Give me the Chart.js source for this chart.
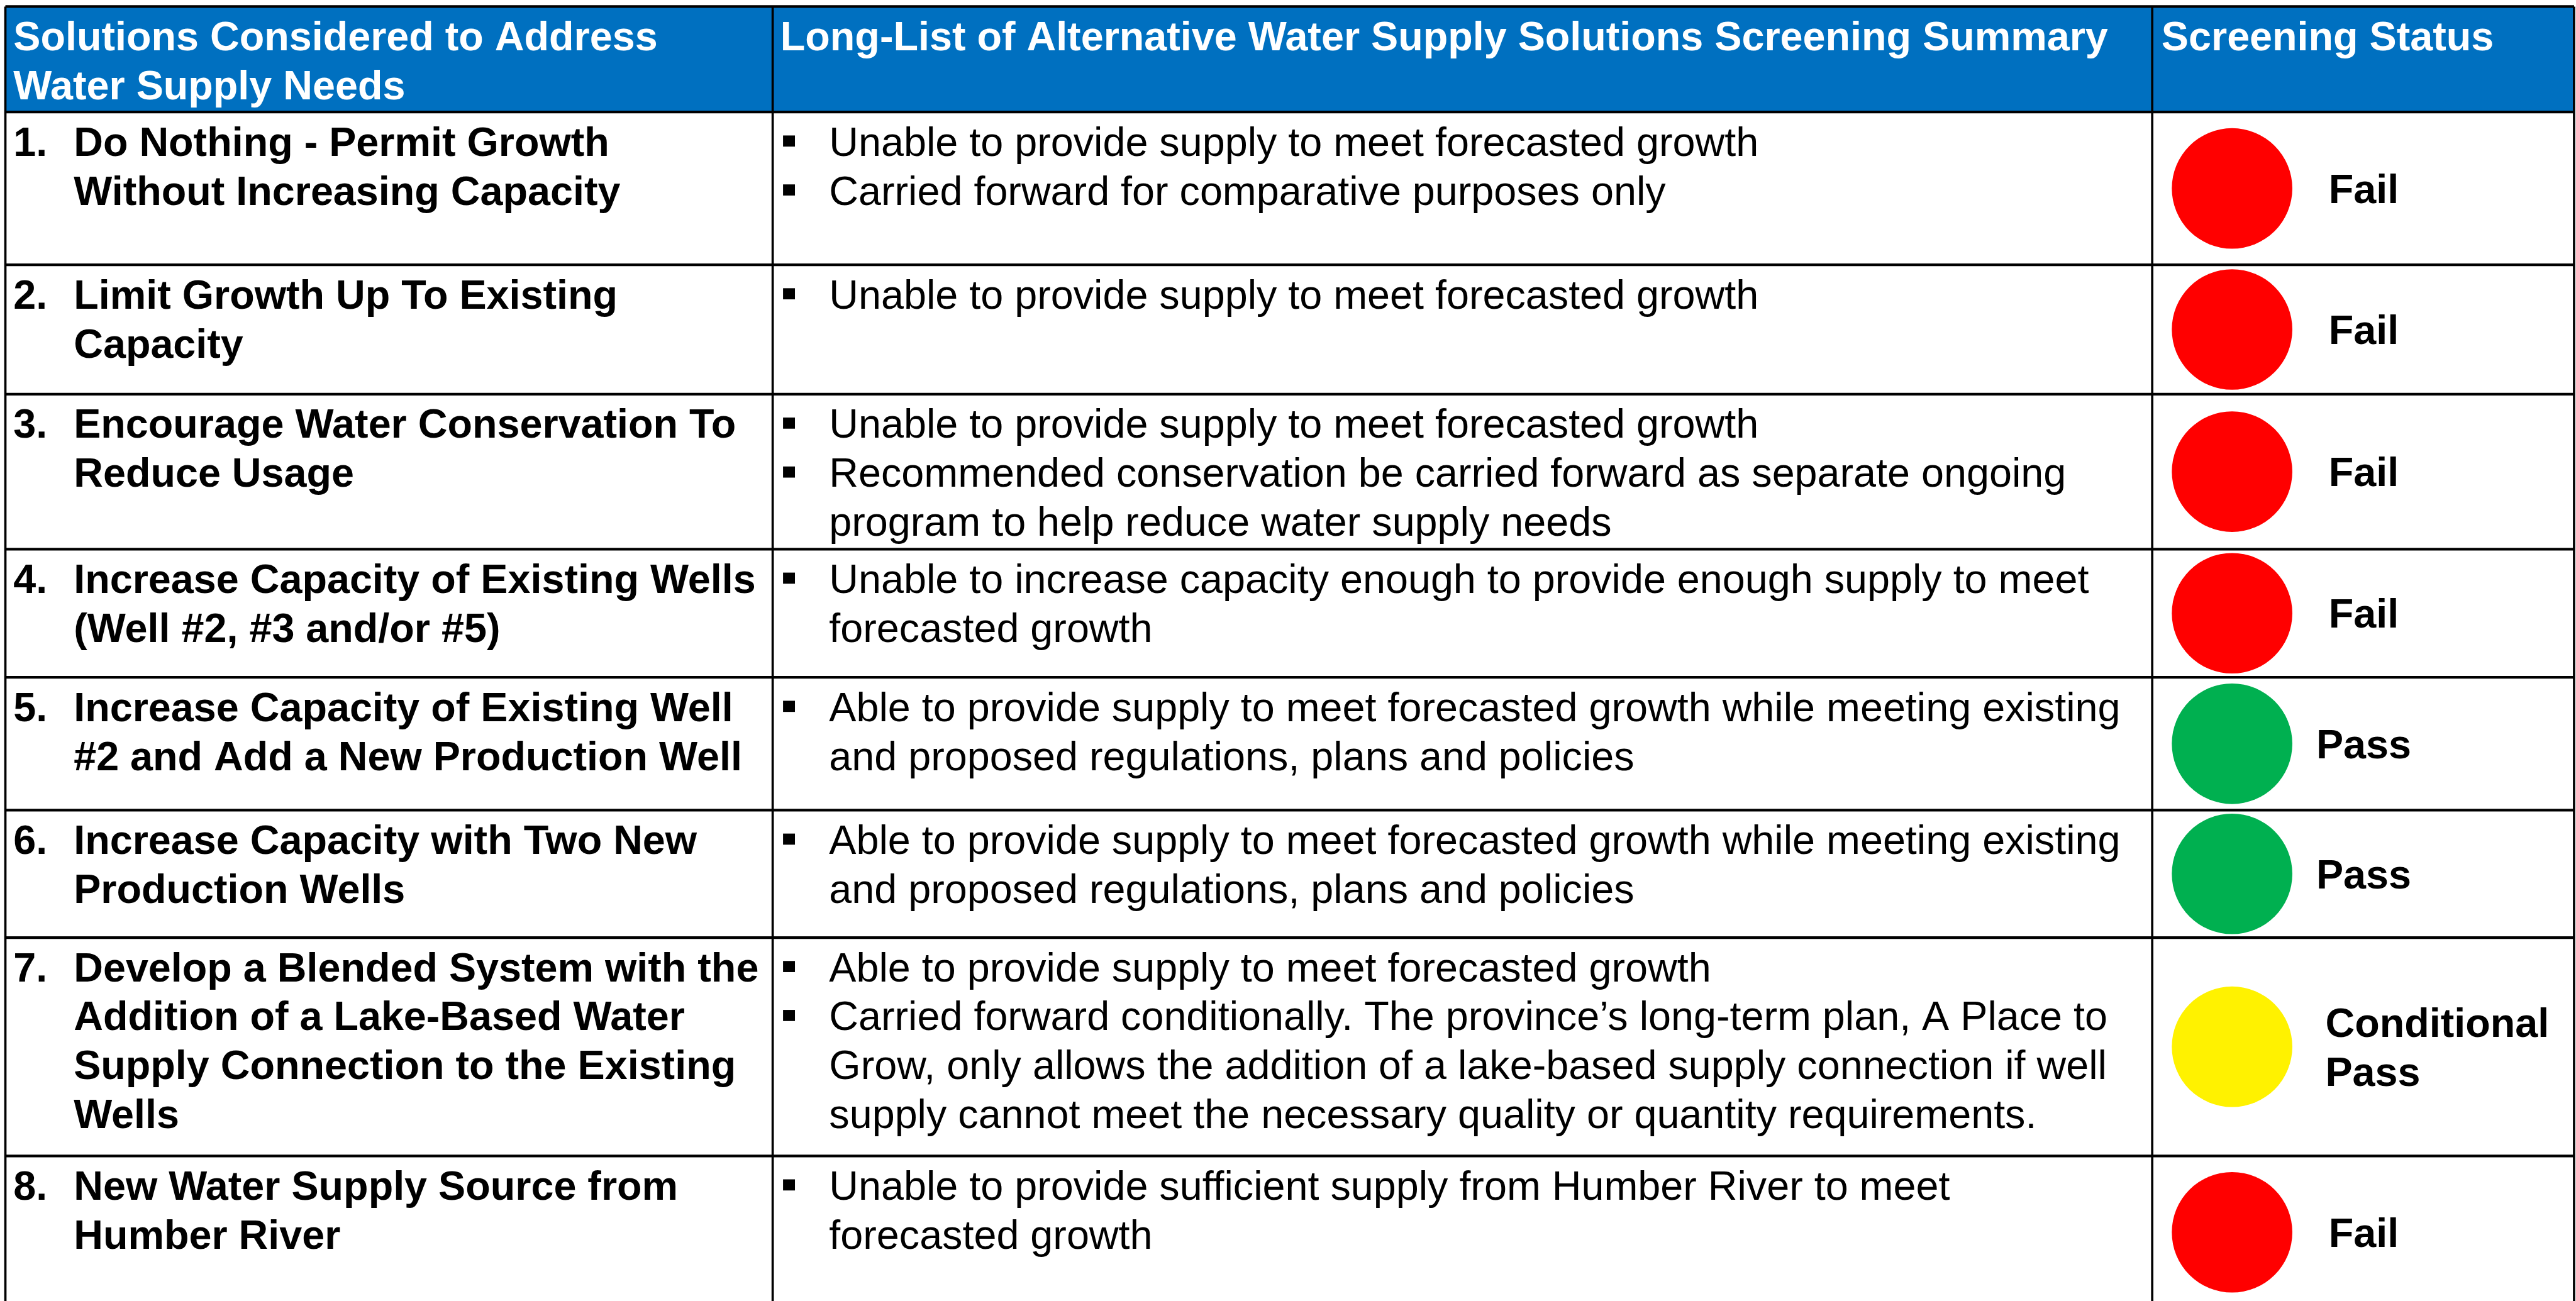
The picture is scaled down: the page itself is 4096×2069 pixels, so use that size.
<!DOCTYPE html>
<html>
<head>
<meta charset="utf-8">
<script src="https://cdn.jsdelivr.net/npm/chart.js@4.4.1/dist/chart.umd.min.js"></script>
<style>
  html, body { margin: 0; padding: 0; background: #ffffff; overflow: hidden; }
  #wrap { width: 4096px; height: 2069px; position: relative; }
</style>
</head>
<body>
<div id="wrap"><canvas id="c"></canvas></div>
<script>
// ---------- DATA ----------
const headerTitles = [
  ["Solutions Considered to Address", "Water Supply Needs"],
  ["Long-List of Alternative Water Supply Solutions Screening Summary"],
  ["Screening Status"]
];
const optionNumbers = ["1.", "2.", "3.", "4.", "5.", "6.", "7.", "8."];
const optionNames = [
  ["Do Nothing - Permit Growth", "Without Increasing Capacity"],
  ["Limit Growth Up To Existing", "Capacity"],
  ["Encourage Water Conservation To", "Reduce Usage"],
  ["Increase Capacity of Existing Wells", "(Well #2, #3 and/or #5)"],
  ["Increase Capacity of Existing Well", "#2 and Add a New Production Well"],
  ["Increase Capacity with Two New", "Production Wells"],
  ["Develop a Blended System with the", "Addition of a Lake-Based Water", "Supply Connection to the Existing", "Wells"],
  ["New Water Supply Source from", "Humber River"]
];
const screeningSummary = [
  [["Unable to provide supply to meet forecasted growth"], ["Carried forward for comparative purposes only"]],
  [["Unable to provide supply to meet forecasted growth"]],
  [["Unable to provide supply to meet forecasted growth"], ["Recommended conservation be carried forward as separate ongoing", "program to help reduce water supply needs"]],
  [["Unable to increase capacity enough to provide enough supply to meet", "forecasted growth"]],
  [["Able to provide supply to meet forecasted growth while meeting existing", "and proposed regulations, plans and policies"]],
  [["Able to provide supply to meet forecasted growth while meeting existing", "and proposed regulations, plans and policies"]],
  [["Able to provide supply to meet forecasted growth"], ["Carried forward conditionally. The province\u2019s long-term plan, A Place to", "Grow, only allows the addition of a lake-based supply connection if well", "supply cannot meet the necessary quality or quantity requirements."]],
  [["Unable to provide sufficient supply from Humber River to meet", "forecasted growth"]]
];
const screeningStatus = ["Fail", "Fail", "Fail", "Fail", "Pass", "Pass", "Conditional Pass", "Fail"];
const statusColors = { "Fail": "#FF0000", "Pass": "#00B050", "Conditional Pass": "#FFF200" };

// ---------- LAYOUT (reference units) ----------
const REF_W = 6711, REF_H = 3390;
const colEdges = [14, 2013, 5607, 6706];
const rowEdges = [17, 292, 690, 1027, 1431, 1765, 2111, 2443, 3012, 3410];
const FONT_REF = 106, LINE_REF = 127.5, BASE_OFF = 114;
const FONT = '"Liberation Sans", Arial, Helvetica, sans-serif';

const statusPoints = screeningStatus.map((s, i) => ({
  x: 5815,
  y: (rowEdges[i + 1] + rowEdges[i + 2]) / 2,
  status: s
}));

const tablePlugin = {
  id: 'tablePlugin',
  beforeDatasetsDraw(chart) {
    const ctx = chart.ctx, sx = chart.scales.x, sy = chart.scales.y;
    const X = v => sx.getPixelForValue(v), Y = v => sy.getPixelForValue(v);
    const k = (X(REF_W) - X(0)) / REF_W;
    ctx.save();
    // header background
    ctx.fillStyle = '#0070C0';
    ctx.fillRect(X(colEdges[0]), Y(rowEdges[0]), X(colEdges[3]) - X(colEdges[0]), Y(rowEdges[1]) - Y(rowEdges[0]));
    // horizontal lines
    ctx.strokeStyle = '#000000';
    ctx.lineWidth = 7 * k;
    for (let i = 0; i < rowEdges.length - 1; i++) {
      ctx.beginPath();
      ctx.moveTo(X(colEdges[0]), Y(rowEdges[i]));
      ctx.lineTo(X(colEdges[3]), Y(rowEdges[i]));
      ctx.stroke();
    }
    // vertical lines
    ctx.lineWidth = 6 * k;
    colEdges.forEach(c => {
      ctx.beginPath();
      ctx.moveTo(X(c), Y(rowEdges[0]));
      ctx.lineTo(X(c), Y(REF_H + 50));
      ctx.stroke();
    });
    ctx.restore();
  },
  afterDatasetsDraw(chart) {
    const ctx = chart.ctx, sx = chart.scales.x, sy = chart.scales.y;
    const X = v => sx.getPixelForValue(v), Y = v => sy.getPixelForValue(v);
    const k = (X(REF_W) - X(0)) / REF_W;
    const fs = FONT_REF * k;
    ctx.save();
    ctx.textBaseline = 'alphabetic';
    ctx.textAlign = 'left';
    // header
    ctx.fillStyle = '#FFFFFF';
    ctx.font = 'bold ' + fs + 'px ' + FONT;
    const headerX = [35, 2033, 5631];
    headerTitles.forEach((lines, c) => {
      lines.forEach((t, j) => {
        ctx.fillText(t, X(headerX[c]), Y(rowEdges[0] + BASE_OFF + j * LINE_REF));
      });
    });
    // body
    ctx.fillStyle = '#000000';
    for (let r = 0; r < optionNames.length; r++) {
      const top = rowEdges[r + 1];
      const base0 = top + BASE_OFF;
      ctx.font = 'bold ' + fs + 'px ' + FONT;
      ctx.fillText(optionNumbers[r], X(35), Y(base0));
      optionNames[r].forEach((t, j) => ctx.fillText(t, X(192), Y(base0 + j * LINE_REF)));
      ctx.font = fs + 'px ' + FONT;
      let line = 0;
      screeningSummary[r].forEach(bullet => {
        const b = base0 + line * LINE_REF;
        ctx.fillRect(X(2040), Y(b - 53), 31 * k, 29 * k);
        bullet.forEach((t, j) => {
          ctx.fillText(t, X(2160), Y(base0 + (line + j) * LINE_REF));
        });
        line += bullet.length;
      });
      // status label
      ctx.font = 'bold ' + fs + 'px ' + FONT;
      const mid = (rowEdges[r + 1] + rowEdges[r + 2]) / 2;
      const words = screeningStatus[r] === 'Conditional Pass' ? ['Conditional', 'Pass'] : [screeningStatus[r]];
      const capH = 0.716 * FONT_REF;
      const blockH = capH + (words.length - 1) * LINE_REF;
      const firstBase = mid - blockH / 2 + capH;
      if (words.length === 1) {
        ctx.textAlign = 'center';
        ctx.fillText(words[0], X(6158), Y(firstBase));
        ctx.textAlign = 'left';
      } else {
        words.forEach((w, j) => ctx.fillText(w, X(6058), Y(firstBase + j * LINE_REF)));
      }
    }
    ctx.restore();
  }
};

new Chart(document.getElementById('c'), {
  type: 'scatter',
  data: {
    datasets: [{
      data: statusPoints,
      pointRadius: 157 * 4096 / REF_W,
      pointHoverRadius: 157 * 4096 / REF_W,
      pointBackgroundColor: statusPoints.map(p => statusColors[p.status]),
      pointBorderWidth: 0,
      pointBorderColor: 'rgba(0,0,0,0)',
      clip: false
    }]
  },
  options: {
    responsive: true,
    maintainAspectRatio: false,
    animation: false,
    events: [],
    layout: { padding: 0, autoPadding: false },
    plugins: { legend: { display: false }, tooltip: { enabled: false } },
    scales: {
      x: { type: 'linear', min: 0, max: REF_W, display: false },
      y: { type: 'linear', min: 0, max: REF_H, reverse: true, display: false }
    }
  },
  plugins: [tablePlugin]
});
</script>
</body>
</html>
